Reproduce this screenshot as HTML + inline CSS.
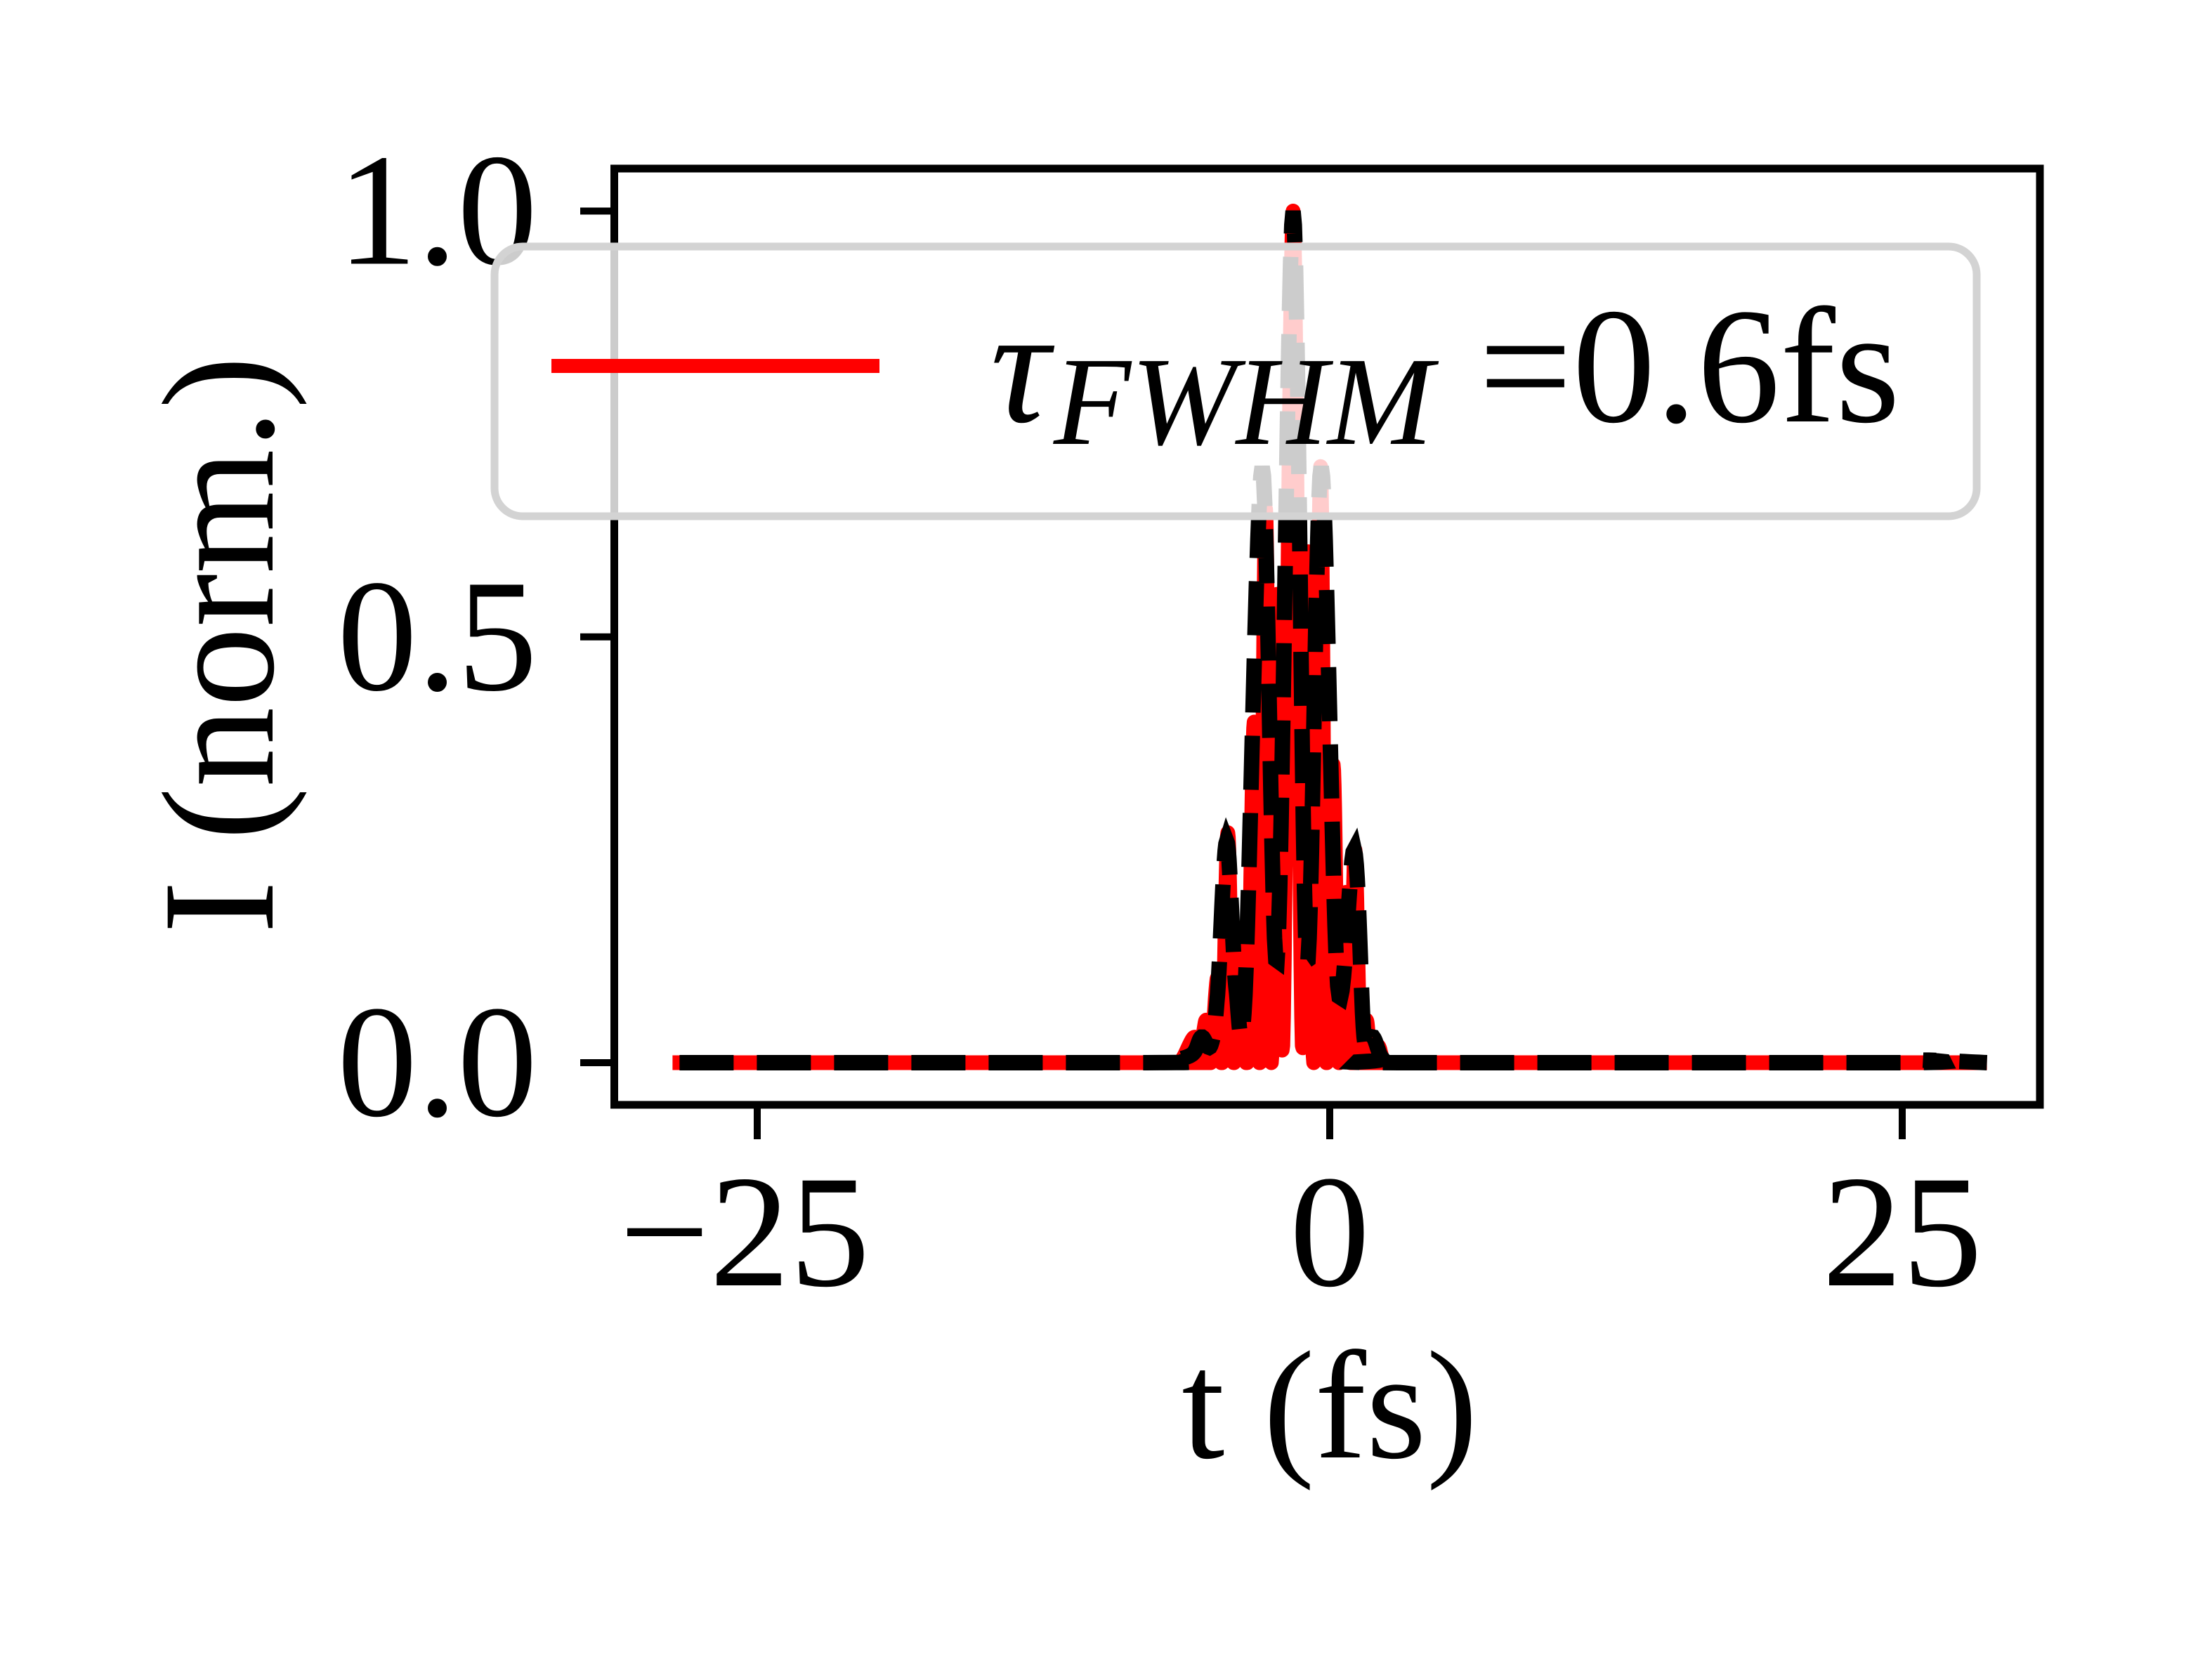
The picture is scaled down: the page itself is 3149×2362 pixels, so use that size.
<!DOCTYPE html>
<html><head><meta charset="utf-8"><style>
html,body{margin:0;padding:0;background:#fff;}
svg{display:block;}
text{font-family:"Liberation Serif","DejaVu Serif",serif;fill:#000;}
</style></head>
<body>
<svg id="chart" width="3149" height="2362" viewBox="0 0 3149 2362" xmlns="http://www.w3.org/2000/svg">
<rect x="0" y="0" width="3149" height="2362" fill="#fff"/>
<g id="plot"></g>
<g id="axes"></g>
<g id="legend">
  <rect x="704" y="351" width="2110" height="384" rx="40" ry="40" fill="rgba(255,255,255,0.8)" stroke="#d3d3d3" stroke-width="11"/>
  <line x1="785" y1="521" x2="1252" y2="521" stroke="#ff0000" stroke-width="20"/>
  <text y="600" font-size="235"><tspan x="1410" font-style="italic">τ</tspan><tspan x="1500" y="632" font-style="italic" font-size="180" textLength="540" lengthAdjust="spacingAndGlyphs">FWHM</tspan><tspan x="2105" y="600" textLength="600" lengthAdjust="spacingAndGlyphs">=0.6fs</tspan></text>
</g>
</svg>
<script>
// ---- data ----
const xTicks = [-25, 0, 25];
const xTickLabels = ["\u221225", "0", "25"];
const yTicks = [0.0, 0.5, 1.0];
const yTickLabels = ["0.0", "0.5", "1.0"];
// red solid (measured intensity) : times (fs) and values
const redT = [-28.7,-7.0,-6.5,-5.9,-5.7,-5.4,-5.2,-4.9,-4.7,-4.45,-4.2,-3.9,-3.6,-3.3,-3.05,-2.8,-2.55,-2.3,-2.05,-1.6,-1.2,-0.95,-0.7,-0.4,-0.15,0.15,0.4,0.7,0.9,1.1,1.35,1.6,1.8,2.1,2.4,3.0,28.7];
const redI = [0,0,0.002,0.03,0,0.05,0,0.1,0,0.27,0,0.15,0,0.4,0,0.65,0,0.55,0.02,1.0,0.02,0.6,0,0.7,0,0.35,0,0.2,0,0.25,0,0.05,0,0.02,0,0,0];
// black dashed (reconstructed intensity)
const blkT = [-28.7,-8.0,-7.0,-6.0,-5.6,-5.2,-4.9,-4.5,-4.1,-3.7,-2.95,-2.3,-1.6,-1.0,-0.37,0.35,1.07,1.5,1.9,2.3,3.0,25.0,26.0,28.7];
const blkI = [0,0,0.002,0.01,0.03,0.02,0.08,0.26,0.09,0.08,0.70,0.12,1.0,0.12,0.70,0.09,0.25,0.03,0.03,0.005,0,0,0.003,0];

// ---- axes mapping ----
const X0 = 1893, XS = 32.6;     // px at t=0, px per fs
const Y0 = 1513, YS = 1212.5;   // px at I=0, px per unit
const xPx = t => X0 + t * XS;
const yPx = v => Y0 - v * YS;
const NS = "http://www.w3.org/2000/svg";

function smoothPath(ts, vs) {
  const pts = ts.map((t, i) => [xPx(t), vs[i]]);
  let d = "";
  for (let i = 0; i < pts.length - 1; i++) {
    const p0 = pts[Math.max(i - 1, 0)], p1 = pts[i], p2 = pts[i + 1], p3 = pts[Math.min(i + 2, pts.length - 1)];
    const n = (p2[0] - p1[0]) > 200 ? 1 : 12;
    for (let k = (i === 0 ? 0 : 1); k <= n; k++) {
      const s = k / n, s2 = s * s, s3 = s2 * s;
      const x = 0.5 * ((2 * p1[0]) + (-p0[0] + p2[0]) * s + (2 * p0[0] - 5 * p1[0] + 4 * p2[0] - p3[0]) * s2 + (-p0[0] + 3 * p1[0] - 3 * p2[0] + p3[0]) * s3);
      let v = 0.5 * ((2 * p1[1]) + (-p0[1] + p2[1]) * s + (2 * p0[1] - 5 * p1[1] + 4 * p2[1] - p3[1]) * s2 + (-p0[1] + 3 * p1[1] - 3 * p2[1] + p3[1]) * s3);
      if (v < 0) v = 0;
      d += (d ? "L" : "M") + x.toFixed(1) + "," + yPx(v).toFixed(1);
    }
  }
  return d;
}

const plot = document.getElementById("plot");
const red = document.createElementNS(NS, "path");


red.setAttribute("d", smoothPath(redT, redI));
red.setAttribute("fill", "none");
red.setAttribute("stroke", "#ff0000");
red.setAttribute("stroke-width", "21");
red.setAttribute("stroke-linejoin", "round");
plot.appendChild(red);

const blk = document.createElementNS(NS, "path");


blk.setAttribute("d", smoothPath(blkT, blkI));
blk.setAttribute("fill", "none");
blk.setAttribute("stroke", "#000");
blk.setAttribute("stroke-width", "22");
blk.setAttribute("stroke-dasharray", "77 33");
blk.setAttribute("stroke-dashoffset", "-10");
plot.appendChild(blk);

// ---- axes frame, ticks, labels ----
const axes = document.getElementById("axes");
const frame = document.createElementNS(NS, "rect");


frame.setAttribute("x", 874.5); frame.setAttribute("y", 240);
frame.setAttribute("width", 2029.5); frame.setAttribute("height", 1333);
frame.setAttribute("fill", "none"); frame.setAttribute("stroke", "#000"); frame.setAttribute("stroke-width", "11");
axes.appendChild(frame);

xTicks.forEach((t, i) => {
  const l = document.createElementNS(NS, "line");
  
  
  l.setAttribute("x1", xPx(t)); l.setAttribute("x2", xPx(t));
  l.setAttribute("y1", 1573); l.setAttribute("y2", 1622);
  l.setAttribute("stroke", "#000"); l.setAttribute("stroke-width", "10");
  axes.appendChild(l);
  const tx = document.createElementNS(NS, "text");
  
  
  tx.setAttribute("x", xPx(t) - (t < 0 ? 18 : 0)); tx.setAttribute("y", 1830);
  tx.setAttribute("font-size", "228"); tx.setAttribute("text-anchor", "middle");
  tx.textContent = xTickLabels[i];
  axes.appendChild(tx);
});
yTicks.forEach((v, i) => {
  const l = document.createElementNS(NS, "line");
  
  
  l.setAttribute("x1", 826); l.setAttribute("x2", 874.5);
  l.setAttribute("y1", yPx(v)); l.setAttribute("y2", yPx(v));
  l.setAttribute("stroke", "#000"); l.setAttribute("stroke-width", "10");
  axes.appendChild(l);
  const tx = document.createElementNS(NS, "text");
  
  
  tx.setAttribute("x", 765); tx.setAttribute("y", yPx(v) + 75);
  tx.setAttribute("font-size", "228"); tx.setAttribute("text-anchor", "end");
  tx.textContent = yTickLabels[i];
  axes.appendChild(tx);
});
const xl = document.createElementNS(NS, "text");


xl.setAttribute("x", 1893); xl.setAttribute("y", 2075);
xl.setAttribute("font-size", "220"); xl.setAttribute("text-anchor", "middle");
xl.textContent = "t (fs)";
axes.appendChild(xl);
const yl = document.createElementNS(NS, "text");


yl.setAttribute("font-size", "228"); yl.setAttribute("text-anchor", "middle");
yl.setAttribute("transform", "translate(388,918) rotate(-90)");
yl.textContent = "I (norm.)";
axes.appendChild(yl);
</script>
</body></html>
